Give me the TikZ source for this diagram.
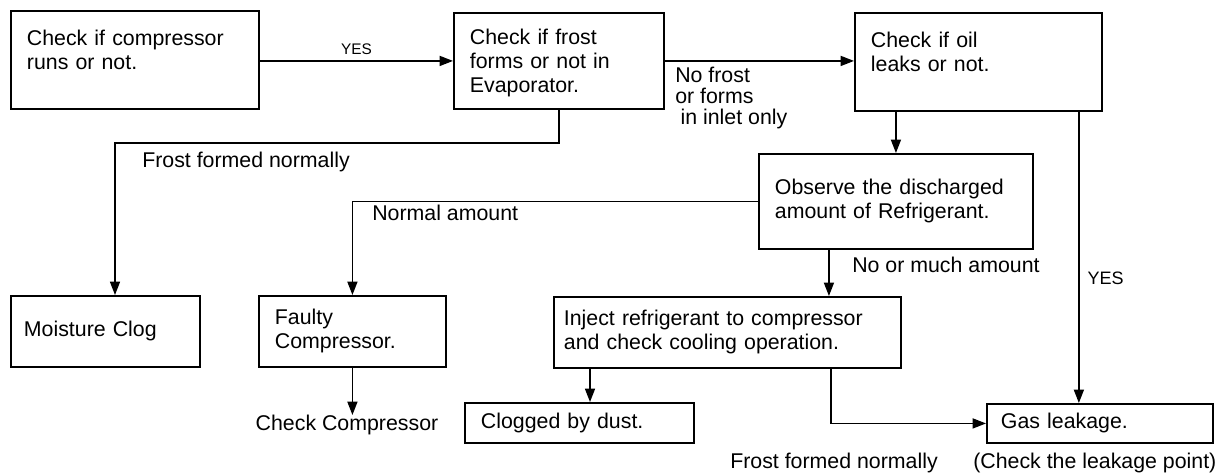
\documentclass[tikz,border=0pt]{standalone}
\usepackage{fontspec}
\setmainfont{Liberation Sans}
\usetikzlibrary{arrows.meta}

\tikzset{
  box/.style={draw, line width=1.4pt, anchor=north west, align=left, inner xsep=12pt, inner ysep=0pt, font=\fontsize{16}{18}\selectfont},
  lbl/.style={inner sep=0pt, font=\fontsize{16}{15.75}\selectfont},
  line/.style={line width=1.1pt},
  arr/.style={line, -{Triangle[length=10pt,width=7.5pt]}}
}

\begin{document}
\begin{tikzpicture}[x=0.75pt, y=-0.75pt]
    \useasboundingbox (0,0) rectangle (1227,472);
    \node[box, text width=162pt, minimum height=73.5pt] (run) at (10,10) {Check if compressor\\runs or not.\\[-3pt]\mbox{}}; % start
    \node[box, text width=133.5pt, minimum height=72pt] (frost) at (453,12) {\rule{0pt}{15pt}Check if frost\\forms or not in\\Evaporator.};
    \node[box, text width=161.25pt, minimum height=73.5pt] (oil) at (854,12) {Check if oil\\leaks or not.\\[-3pt]\mbox{}};
    \node[box, text width=181.5pt, minimum height=71.25pt] (obs) at (758,153) {Observe the discharged\\amount of Refrigerant.};
    \node[box, inner xsep=9.75pt, text width=122.25pt, minimum height=53.25pt] (moist) at (10,295) {Moisture Clog};
    \node[box, text width=116.25pt, minimum height=53.25pt] (faulty) at (258,295) {Faulty\\Compressor.};
    \node[box, inner xsep=7.5pt, text width=245.25pt, minimum height=53.25pt] (inject) at (553,296) {Inject refrigerant to compressor\\and check cooling operation.};
    \node[box, text width=147.75pt, minimum height=30pt] (dust) at (464,402) {Clogged by dust.};
    \node[box, inner xsep=10.5pt, text width=148.5pt, minimum height=29.25pt] (gas) at (986,403) {Gas leakage.};
    \node[lbl, anchor=north] (chk) at (347,415) {Check Compressor};
    % labels
    \node[lbl, align=left, anchor=north west] (nofrost) at (675,67) {No frost\\or forms\\\hspace{4pt}in inlet only};
    \node[lbl, anchor=base west] (ffn1) at (142,167) {Frost formed normally};
    \node[lbl, anchor=base west] (normal) at (372,220) {Normal amount};
    \node[lbl, anchor=base west] (much) at (852,272) {No or much amount};
    \node[lbl, anchor=base west] (ffn2) at (730,468) {Frost formed normally};
    \node[lbl, anchor=base west] (leak) at (973,468) {(Check the leakage point)};
    % connectors
    \draw[arr] (run.east |- frost.west) -- node[lbl, above=4pt, font=\fontsize{11.5}{12}\selectfont] (yes1) {YES} (frost.west); % runs
    \draw[arr] (frost.east) -- (frost.east -| oil.west); % no frost
    \coordinate (mbend) at (115,143);
    \draw[arr] (frost.south) |- (mbend) -- (mbend |- moist.north); % frost normal
    \draw[arr] (obs.north |- oil.south) -- (obs.north);
    \draw[arr] ([xshift=-18pt]oil.south east) -- node[lbl, right=6pt, pos=0.57, font=\fontsize{13.5}{14}\selectfont] (yes2) {YES} ([xshift=-18pt]oil.south east |- gas.north); % leaks
    \draw[arr] (obs.west) -| (faulty.north); % normal amount
    \draw[arr] ([xshift=-50.25pt]obs.south) -- ([xshift=-50.25pt]obs.south |- inject.north); % no or much
    \draw[arr] (faulty.south) -- (faulty.south |- chk.north);
    \draw[arr] ([xshift=27.75pt]inject.south west) -- ([xshift=27.75pt]inject.south west |- dust.north);
    \draw[arr] ([xshift=-53.25pt]inject.south east) |- (gas.west);
\end{tikzpicture}
\end{document}
